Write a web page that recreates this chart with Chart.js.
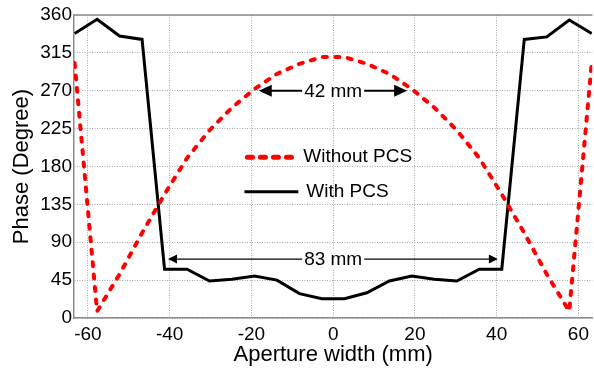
<!DOCTYPE html>
<html>
<head>
<meta charset="utf-8">
<script src="https://cdn.jsdelivr.net/npm/chart.js@4.4.1/dist/chart.umd.min.js"></script>
<style>
  html, body { margin: 0; padding: 0; background: #fff; }
  #wrap { width: 594px; height: 375px; }
</style>
</head>
<body>
<div id="wrap"><canvas id="phaseChart"></canvas></div>
<script>
// sample positions across the aperture (mm)
const aperture = [-63.25, -57.75, -52.25, -46.75, -41.25, -35.75, -30.25, -24.75, -19.25, -13.75, -8.25, -2.75,
  2.75, 8.25, 13.75, 19.25, 24.75, 30.25, 35.75, 41.25, 46.75, 52.25, 57.75, 63.25];
// phase in degrees
const withoutPcs = [303, 8, 52, 101, 147, 190, 223, 250, 272, 290, 302, 310,
  310, 302, 290, 272, 250, 223, 190, 147, 101, 52, 8, 303];
const withPcs = [338, 355, 335, 331, 58, 58, 44, 46, 50, 45, 29, 23,
  23, 30, 44, 50, 46, 44, 58, 58, 331, 334, 354, 338];

const xTicks = [-60, -40, -20, 0, 20, 40, 60];
const yTicks = [0, 45, 90, 135, 180, 225, 270, 315, 360];

// dimension marks: [from, to, at phase, label]
const dims = [
  { from: -18.2, to: 18.1, at: 270, label: "42 mm", width: 2, head: 13, half: 6 },
  { from: -40.4, to: 40.3, at: 70, label: "83 mm", width: 1.2, head: 9, half: 4.5 }
];

const FONT = "'Liberation Sans', Arial, sans-serif";

function arrowHead(ctx, x, y, dir, len, half) {
  ctx.beginPath();
  ctx.moveTo(x, y);
  ctx.lineTo(x - dir * len, y - half);
  ctx.lineTo(x - dir * len, y + half);
  ctx.closePath();
  ctx.fill();
}

const extras = {
  id: "extras",
  afterDatasetsDraw(chart) {
    const ctx = chart.ctx;
    const xs = chart.scales.x, ys = chart.scales.y;
    const area = chart.chartArea;
    ctx.save();

    // top frame line
    ctx.strokeStyle = "#8c8c8c";
    ctx.lineWidth = 1.5;
    ctx.beginPath();
    ctx.moveTo(area.left, area.top);
    ctx.lineTo(area.right, area.top);
    ctx.stroke();

    // dimension arrows
    ctx.font = "19px " + FONT;
    ctx.textAlign = "center";
    ctx.textBaseline = "middle";
    dims.forEach((d) => {
      const x1 = xs.getPixelForValue(d.from);
      const x2 = xs.getPixelForValue(d.to);
      const y = ys.getPixelForValue(d.at);
      ctx.strokeStyle = "#000";
      ctx.fillStyle = "#000";
      ctx.lineWidth = d.width;
      ctx.beginPath();
      ctx.moveTo(x1 + d.head - 1, y);
      ctx.lineTo(x2 - d.head + 1, y);
      ctx.stroke();
      arrowHead(ctx, x1, y, -1, d.head, d.half);
      arrowHead(ctx, x2, y, 1, d.head, d.half);
      const cx = xs.getPixelForValue(0);
      const w = ctx.measureText(d.label).width + 4;
      ctx.fillStyle = "#fff";
      ctx.fillRect(cx - w / 2, y - 10, w, 20);
      ctx.fillStyle = "#000";
      ctx.fillText(d.label, cx, y + 1);
    });

    // legend
    const lx1 = xs.getPixelForValue(-21.7), lx2 = xs.getPixelForValue(-9.5);
    const ly1 = ys.getPixelForValue(191), ly2 = ys.getPixelForValue(150);
    ctx.lineCap = "round";
    ctx.strokeStyle = "#ff0000";
    ctx.lineWidth = 5;
    ctx.setLineDash([5, 8]);
    ctx.beginPath();
    ctx.moveTo(lx1 + 3, ly1);
    ctx.lineTo(lx2, ly1);
    ctx.stroke();
    ctx.setLineDash([]);
    ctx.lineCap = "butt";
    ctx.strokeStyle = "#000";
    ctx.lineWidth = 3;
    ctx.beginPath();
    ctx.moveTo(lx1, ly2);
    ctx.lineTo(lx2 + 4, ly2);
    ctx.stroke();
    ctx.fillStyle = "#000";
    ctx.textAlign = "left";
    ctx.font = "19px " + FONT;
    ctx.fillText("Without PCS", lx2 + 9, ly1);
    ctx.fillText("With PCS", lx2 + 12, ly2);
    ctx.restore();
  }
};

new Chart(document.getElementById("phaseChart"), {
  type: "line",
  data: {
    datasets: [
      {
        label: "Without PCS",
        data: aperture.map((x, i) => ({ x: x, y: withoutPcs[i] })),
        borderColor: "#ff0000",
        borderWidth: 4,
        borderDash: [4, 8.5],
        borderCapStyle: "round",
        pointRadius: 0,
        tension: 0
      },
      {
        label: "With PCS",
        data: aperture.map((x, i) => ({ x: x, y: withPcs[i] })),
        borderColor: "#000",
        borderWidth: 3,
        borderJoinStyle: "miter",
        pointRadius: 0,
        tension: 0
      }
    ]
  },
  options: {
    responsive: true,
    maintainAspectRatio: false,
    animation: false,
    layout: { padding: { top: 15, right: 0, left: 0, bottom: 0 }, autoPadding: false },
    plugins: { legend: { display: false }, tooltip: { enabled: false } },
    scales: {
      x: {
        type: "linear",
        min: -63.4,
        max: 63.4,
        afterBuildTicks: (s) => { s.ticks = xTicks.map((v) => ({ value: v })); },
        afterFit: (s) => { s.height = 57; },
        ticks: { color: "#000", padding: 5, font: { family: FONT, size: 19 }, maxRotation: 0 },
        grid: { color: "#a8a8a8", lineWidth: 1, drawTicks: false },
        border: { color: "#8c8c8c", width: 1.5, dash: [1, 1.5] },
        title: { display: true, text: "Aperture width (mm)", color: "#000",
          font: { family: FONT, size: 22 }, padding: { top: 0, bottom: 7 } }
      },
      y: {
        min: 0,
        max: 360,
        afterBuildTicks: (s) => { s.ticks = yTicks.map((v) => ({ value: v })); },
        afterFit: (s) => { s.width = 74; },
        ticks: { color: "#000", padding: 2, font: { family: FONT, size: 19 } },
        grid: { color: "#a8a8a8", lineWidth: 1, drawTicks: false },
        border: { color: "#8c8c8c", width: 1.5, dash: [1, 1.5] },
        title: { display: true, text: "Phase (Degree)", color: "#000",
          font: { family: FONT, size: 22 }, padding: { top: 9, bottom: 0 } }
      }
    }
  },
  plugins: [extras]
});
</script>
</body>
</html>
